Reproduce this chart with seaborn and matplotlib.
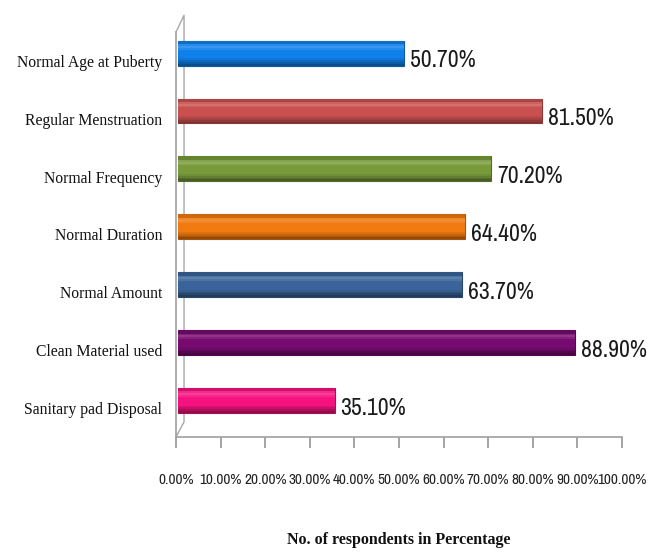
import matplotlib
matplotlib.use("Agg")
import matplotlib.pyplot as plt
from matplotlib import font_manager
import seaborn as sns
import pandas as pd
import numpy as np

categories = ["Normal Age at Puberty", "Regular Menstruation", "Normal Frequency",
              "Normal Duration", "Normal Amount", "Clean Material used",
              "Sanitary pad Disposal"]
values = [50.70, 81.50, 70.20, 64.40, 63.70, 88.90, 35.10]
colors = ["#0f80ea", "#c9504f", "#789a3a", "#f07a10", "#3a6499", "#760a6e", "#f5127e"]
xticks = [0, 10, 20, 30, 40, 50, 60, 70, 80, 90, 100]
xlabel = "No. of respondents in Percentage"

# pick a narrow sans font if one is installed
narrow_family, narrow_stretch = "DejaVu Sans", "normal"
cands = [f for f in font_manager.fontManager.ttflist]
for f in cands:
    if "Narrow" in f.name or "Condensed" in f.name:
        narrow_family, narrow_stretch = f.name, "normal"
        break
else:
    for f in cands:
        if f.name == "DejaVu Sans" and str(f.stretch) in ("condensed", "semi-condensed", "600", "500", "700") and f.weight in (400, "normal"):
            narrow_family, narrow_stretch = "DejaVu Sans", "condensed"
            break

sns.set_theme(style="white")
plt.rcParams["font.family"] = ["Liberation Serif", "DejaVu Serif"]

df = pd.DataFrame({"category": categories, "value": values})

fig = plt.figure(figsize=(6.59, 5.52), dpi=100)
ax = fig.add_axes([176/659, 1-437/552, 446/659, (437-32)/552])

sns.barplot(data=df, y="category", x="value", hue="category", palette=colors,
            orient="h", width=0.43, legend=False, ax=ax,
            edgecolor="none", linewidth=0)

depth_dy = -0.135   # 3D depth offset of the bars (towards the back wall)
depth_dx = 0.5
for p, c in zip(ax.patches, colors):
    rgb = np.array(matplotlib.colors.to_rgb(c))
    p.set_y(p.get_y() + depth_dy)
    p.set_x(p.get_x() + depth_dx)
    p.set_edgecolor(tuple(rgb * 0.7))
    p.set_linewidth(0.8)
    p.set_zorder(3)
    x0, y0 = p.get_x(), p.get_y()
    w, h = p.get_width(), p.get_height()
    n = 14
    for k in range(n):
        t = (k + 0.5) / n
        if t < 0.12:
            col = tuple(rgb * 0.85)
        elif t < 0.4:
            col = tuple(np.minimum(rgb + (1 - rgb) * 0.18 * (1 - abs(t - 0.25) / 0.15), 1))
        elif t < 0.7:
            col = tuple(rgb)
        else:
            col = tuple(rgb * (1 - 0.45 * ((t - 0.7) / 0.3)))
        ax.add_patch(matplotlib.patches.Rectangle(
            (x0, y0 + h * k / n), w, h / n + 1e-3, facecolor=col,
            edgecolor="none", zorder=4))

label_font = dict(family=[narrow_family, "DejaVu Sans"], fontstretch=narrow_stretch)
for i, v in enumerate(values):
    ax.text(v + depth_dx + 1.3, i - 0.0, f"{v:.2f}%", va="center", ha="left",
            fontsize=17, color="#1a1a1a", zorder=5, **label_font)

ax.set_xlim(0, 100)
ax.set_ylim(len(categories) - 0.5, -0.5)
ax.set_xticks(xticks)
ax.set_xticklabels([f"{t:.2f}%" for t in xticks], fontsize=11, color="#222222",
                   **label_font)
ax.set_yticks(range(len(categories)))
ax.set_yticklabels(categories, fontsize=11.3, color="#111111")
ax.set_yticks(np.arange(-0.5, len(categories), 1), minor=True)
ax.tick_params(axis="y", which="major", length=0, pad=10)
ax.tick_params(axis="y", which="minor", length=4, color="#999999", direction="out")
ax.tick_params(axis="x", which="major", length=8, color="#999999", direction="out",
               pad=18, bottom=True)
ax.set_xlabel(xlabel, fontsize=11.5, fontweight="bold", labelpad=32, color="#111111")
ax.set_ylabel("")

for s in ["top", "right"]:
    ax.spines[s].set_visible(False)
for s in ["left", "bottom"]:
    ax.spines[s].set_color("#a0a0a0")
    ax.spines[s].set_linewidth(1.2)

# back wall outline (3D look)
ax.plot([0, 1.8, 1.8, 0], [-0.5, -0.79, 6.24, 6.5], color="#a8a8a8", lw=1.0,
        clip_on=False, zorder=1)

fig.savefig("out.png", dpi=100)
